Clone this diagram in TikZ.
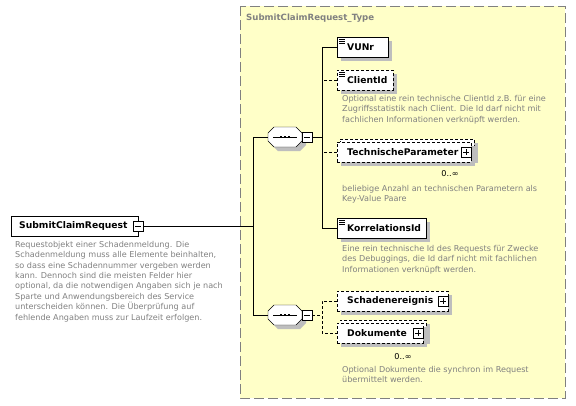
\documentclass[tikz,border=0pt]{standalone}
\usepackage{fontspec}
\setmainfont{DejaVu Sans}
\usetikzlibrary{shadows,positioning}

\definecolor{typebg}{RGB}{255,255,200}
\definecolor{descgray}{RGB}{128,128,128}
\definecolor{shadowgray}{RGB}{190,190,190}

\tikzset{
  myshadow/.style={drop shadow={shadow xshift=4pt,shadow yshift=-4pt,fill=shadowgray,opacity=1}},
  elem/.style={draw,fill=white,font=\bfseries\fontsize{9.2}{11}\selectfont,minimum height=20pt,
    inner xsep=10pt,inner ysep=0pt,anchor=west,myshadow},
  opt/.style={dash pattern=on 3pt off 2pt},
  backbox/.style={draw,fill=white,minimum height=20pt,anchor=west,opt,myshadow},
  seq/.style={minimum width=34pt,minimum height=20pt,inner sep=0pt},
  desc/.style={anchor=north west,inner sep=0pt,align=left,text=descgray,
    font=\fontsize{8.1}{10.4}\selectfont},
  pm/.style={draw,fill=white,minimum size=10pt,inner sep=0pt,line width=0.8pt},
  card/.style={font=\fontsize{8.1}{10}\selectfont,inner sep=0pt}
}

% expand / collapse buttons
\newcommand{\plusbox}[2]{%
  \node[pm] (#1) at (#2) {};
  \draw (#1.center) +(-3,0) -- +(3,0) (#1.center) +(0,-3) -- +(0,3);}
\newcommand{\minusbox}[2]{%
  \node[pm] (#1) at (#2) {};
  \draw (#1.center) +(-3,0) -- +(3,0);}
% documentation mark of simple elements
\newcommand{\docmark}[1]{%
  \foreach \dy in {2,4,6} \draw[line width=0.6pt] ([xshift=2pt,yshift=-\dy pt]#1.north west) -- ++(6,0);}
% sequence compositor: octagon with shadow and dots
\newcommand{\seqshape}[1]{%
  \fill[shadowgray,shift={(#1.center)},xshift=4pt,yshift=-4pt] (-17,-4) -- (-11,-10) -- (11,-10) -- (17,-4) -- (17,4) -- (11,10) -- (-11,10) -- (-17,4) -- cycle;
  \draw[fill=white,shift={(#1.center)}] (-17,-4) -- (-11,-10) -- (11,-10) -- (17,-4) -- (17,4) -- (11,10) -- (-11,10) -- (-17,4) -- cycle;
  \draw (#1.center) +(-12,0) -- +(12,0);
  \foreach \dx in {-4,0,4} \fill (#1.center) +(\dx-1.2,-1.2) rectangle +(\dx+1.2,1.2);}

\begin{document}
\begin{tikzpicture}[x=1pt,y=-1pt]
\useasboundingbox (0,0) rectangle (576,405);

% complex type frame
\draw[fill=typebg,draw=descgray,dash pattern=on 10pt off 4pt] (240,6) rectangle (565,398);
\node[anchor=west,text=descgray,font=\bfseries\fontsize{8.6}{10}\selectfont,inner sep=0pt] (title) at (246,18) {SubmitClaimRequest\_Type};

% root element
\node[draw,fill=white,font=\bfseries\fontsize{9.2}{11}\selectfont,minimum height=20pt,inner xsep=8pt,inner ysep=0pt,anchor=west] (root) at (11,226) {\makebox[111pt][l]{SubmitClaimRequest}};
\minusbox{rootmin}{root.east}
\node[desc] (rootdesc) at (15,241) {Requestobjekt einer Schadenmeldung. Die\\
Schadenmeldung muss alle Elemente beinhalten,\\
so dass eine Schadennummer vergeben werden\\
kann. Dennoch sind die meisten Felder hier\\
optional, da die notwendigen Angaben sich je nach\\
Sparte und Anwendungsbereich des Service\\
unterscheiden können. Die Überprüfung auf\\
fehlende Angaben muss zur Laufzeit erfolgen.};

% sequences
\node[seq] (seqA) at (285,137) {};
\seqshape{seqA}
\minusbox{seqAmin}{307,137}
\node[seq] (seqB) at (285,315) {};
\seqshape{seqB}
\minusbox{seqBmin}{307,315}

% elements of first sequence
\node[elem] (vunr) at (337,47) {\makebox[31pt][l]{VUNr}};
\docmark{vunr}
\node[elem,opt] (clientid) at (337,80) {\makebox[36pt][l]{ClientId}};
\docmark{clientid}
\node[desc] (clientdesc) at (342,95) {Optional eine rein technische ClientId z.B. für eine\\
Zugriffsstatistik nach Client. Die Id darf nicht mit\\
fachlichen Informationen verknüpft werden.};
\node[backbox,minimum width=134pt] (techback) at (340,149) {};
\node[elem,opt] (tech) at (337,152) {\makebox[114pt][l]{TechnischeParameter}};
\plusbox{techplus}{[xshift=-5pt]tech.east}
\node[card] (techcard) at (450,174) {0..∞};
\node[desc] (techdesc) at (342,185) {beliebige Anzahl an technischen Parametern als\\
Key-Value Paare};
\node[elem] (korr) at (337,228) {\makebox[69pt][l]{KorrelationsId}};
\docmark{korr}
\node[desc] (korrdesc) at (342,245) {Eine rein technische Id des Requests für Zwecke\\
des Debuggings, die Id darf nicht mit fachlichen\\
Informationen verknüpft werden.};

% elements of second sequence
\node[elem,opt] (schaden) at (337,301) {\makebox[91pt][l]{Schadenereignis}};
\plusbox{schadenplus}{[xshift=-5pt]schaden.east}
\node[backbox,minimum width=86pt] (dokuback) at (340,330) {};
\node[elem,opt] (doku) at (337,333) {\makebox[66pt][l]{Dokumente}};
\plusbox{dokuplus}{[xshift=-5pt]doku.east}
\node[card] (dokucard) at (403,357) {0..∞};
\node[desc] (dokudesc) at (342,366) {Optional Dokumente die synchron im Request\\
übermittelt werden.};

% connectors
\coordinate (trunk) at (253,226);
\coordinate (busA) at (322,137);
\coordinate (busB) at (322,315);
\draw (rootmin.east) -- (trunk);
\draw (seqA.west) -- (seqA.west -| trunk) -- (seqB.west -| trunk) -- (seqB.west);
\draw (seqAmin.east) -- (busA);
\draw (vunr.west) -- (vunr.west -| busA) -- (korr.west -| busA) -- (korr.west);
\draw[opt] (clientid.west) -- (clientid.west -| busA);
\draw[opt] (tech.west) -- (tech.west -| busA);
\draw[opt] (seqBmin.east) -- (busB);
\draw[opt] (schaden.west) -- (schaden.west -| busB) -- (doku.west -| busB) -- (doku.west);
\end{tikzpicture}
\end{document}
